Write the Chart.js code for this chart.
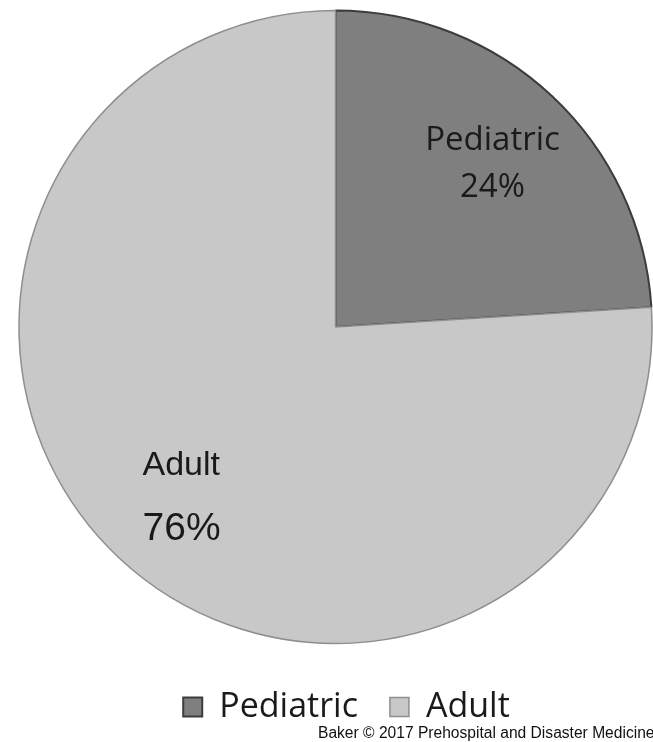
<!DOCTYPE html>
<html>
<head>
<meta charset="utf-8">
<script src="https://cdn.jsdelivr.net/npm/chart.js@4.4.1/dist/chart.umd.min.js"></script>
<style>
  html, body { margin: 0; padding: 0; background: #fff; overflow: hidden; }
  #wrap { position: relative; width: 653px; height: 742px; overflow: hidden; }
  #credit {
    position: absolute; left: 318px; top: 724px;
    font: 15.6px "Liberation Sans", Arial, sans-serif; color: #111; white-space: nowrap;
  }
</style>
</head>
<body>
<div id="wrap">
  <canvas id="groupChart" width="653" height="742"></canvas>
  <div id="credit">Baker © 2017 Prehospital and Disaster Medicine</div>
</div>
<script>
// Patient groups and their share of the total (%)
const categories = ["Pediatric", "Adult"];
const shares = [24, 76];

const sliceColors = ["#7f7f7f", "#c8c8c8"];
const sliceBorders = ["#3c3c3c", "#8e8e8e"];

// how the in-slice labels are set: offsets from a point at 72% of the radius on the slice's mid angle
const sliceLabelStyle = [
  { fonts: ["33px 'Open Sans'", "33px 'Open Sans'"], align: "center", dx: 1, dy: [-11, 36] },
  { fonts: ["34px 'Liberation Sans'", "39px 'Liberation Sans'"], align: "left", dx: -37, dy: [-18, 47] }
];

const sliceLabels = {
  id: "sliceLabels",
  afterLayout(chart) {
    // the legend sits a little right of centre in the original
    chart.legend.left += 11;
    chart.legend.right += 11;
  },
  afterDatasetsDraw(chart) {
    const ctx = chart.ctx;
    const meta = chart.getDatasetMeta(0);
    meta.data.forEach((arc, i) => {
      const p = arc.getProps(["x", "y", "startAngle", "endAngle", "outerRadius"], true);
      const mid = (p.startAngle + p.endAngle) / 2;
      const ax = p.x + Math.cos(mid) * p.outerRadius * 0.72;
      const ay = p.y + Math.sin(mid) * p.outerRadius * 0.72;
      const st = sliceLabelStyle[i];
      const lines = [categories[i], shares[i] + "%"];
      ctx.save();
      ctx.fillStyle = "#1a1a1a";
      ctx.textAlign = st.align;
      ctx.textBaseline = "alphabetic";
      lines.forEach((txt, k) => {
        ctx.font = st.fonts[k];
        ctx.fillText(txt, ax + st.dx, ay + st.dy[k]);
      });
      ctx.restore();
    });
  }
};

new Chart("groupChart", {
  type: "pie",
  data: {
    labels: categories,
    datasets: [
      {
        data: shares,
        backgroundColor: sliceColors,
        borderColor: sliceBorders,
        borderWidth: [2, 1.5],
      },
    ],
  },
  options: {
    responsive: false,
    animation: false,
    layout: { padding: { left: 18, right: 0, top: 9, bottom: 8 } },
    plugins: {
      // empty title used only as a gap between the pie and the legend
      title: {
        display: true,
        text: "",
        position: "bottom",
        weight: 500,
        padding: 0,
        font: { size: 13, lineHeight: 1 },
      },
      legend: {
        position: "bottom",
        labels: {
          boxWidth: 19,
          boxHeight: 19,
          padding: 32,
          color: "#1a1a1a",
          font: { family: "'Open Sans'", size: 34 },
        },
      },
      tooltip: { enabled: false },
    },
  },
  plugins: [sliceLabels],
});
</script>
</body>
</html>
